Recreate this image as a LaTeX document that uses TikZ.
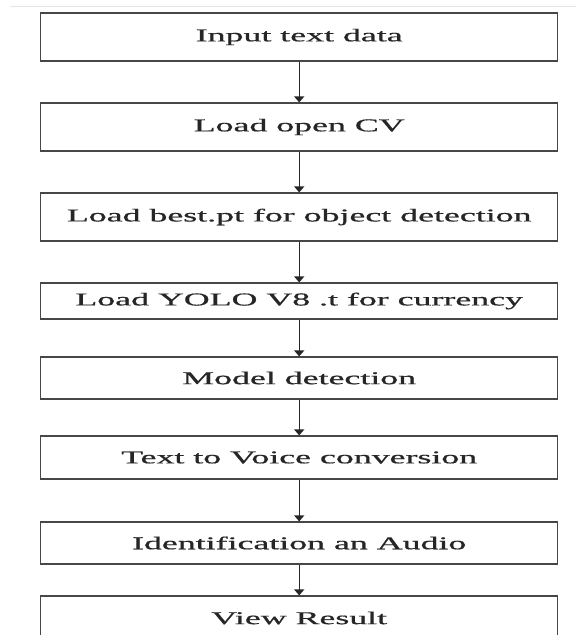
\documentclass[tikz,border=0pt]{standalone}
\usepackage{fontspec}
\usepackage{graphicx}
\setmainfont[FakeBold=0.6]{Liberation Serif}
\usetikzlibrary{arrows.meta}
\newcommand{\wtext}[1]{\scalebox{1.99}[1]{\fontsize{18}{20}\selectfont #1}}
\tikzset{
  flowbox/.style={draw=black!72, line width=1.2pt, fill=white, rectangle,
    minimum width=517pt, inner sep=0pt, text=black!85},
  flowarrow/.style={draw=black!85, line width=1.4pt,
    -{Triangle[width=10pt,length=6pt]}},
}
\begin{document}
\begin{tikzpicture}[x=1pt,y=1pt]
\useasboundingbox (0,0) rectangle (576,-635);
\coordinate (tl) at (10,-6.7);
\coordinate (tr) at (576,-6.7);
\draw[black!10, line width=1pt] (tl) -- (tr);
\node[flowbox, minimum height=48pt] (b1) at (299.2,-37) {\wtext{Input text data}};
\node[flowbox, minimum height=48pt] (b2) at (299.2,-127) {\wtext{Load open CV}};
\node[flowbox, minimum height=48pt] (b3) at (299.2,-217) {\wtext{Load best.pt for object detection}};
\node[flowbox, minimum height=36pt] (b4) at (299.2,-301) {\wtext{Load YOLO V8 .t for currency}};
\node[flowbox, minimum height=42pt] (b5) at (299.2,-378) {\wtext{Model detection}};
\node[flowbox, minimum height=43pt] (b6) at (299.2,-457.5) {\wtext{Text to Voice conversion}};
\node[flowbox, minimum height=42pt] (b7) at (299.2,-543) {\wtext{Identification an Audio}};
\node[flowbox, minimum height=44pt] (b8) at (299.2,-618) {\wtext{View Result}};
\foreach \a/\b in {b1/b2,b2/b3,b3/b4,b4/b5,b5/b6,b6/b7,b7/b8}
  \draw[flowarrow] (\a.south) -- (\b.north);
\end{tikzpicture}
\end{document}
